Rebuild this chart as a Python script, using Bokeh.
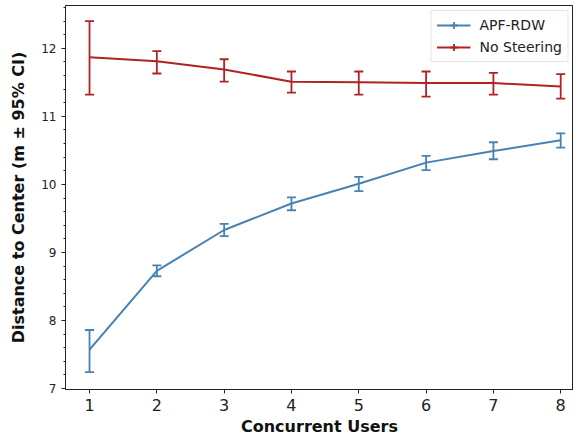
from bokeh.plotting import figure
from bokeh.models import ColumnDataSource, Whisker, TeeHead, Legend, LegendItem, FixedTicker, Range1d
from bokeh.embed import file_html
from bokeh.resources import INLINE

users = [1, 2, 3, 4, 5, 6, 7, 8]
apf_mean = [7.57, 8.73, 9.33, 9.72, 10.01, 10.32, 10.49, 10.65]
apf_lower = [7.24, 8.65, 9.24, 9.62, 9.90, 10.21, 10.37, 10.54]
apf_upper = [7.86, 8.81, 9.42, 9.81, 10.11, 10.42, 10.62, 10.75]
nos_mean = [11.87, 11.81, 11.69, 11.51, 11.50, 11.49, 11.49, 11.44]
nos_lower = [11.32, 11.63, 11.51, 11.35, 11.32, 11.29, 11.32, 11.26]
nos_upper = [12.40, 11.96, 11.84, 11.66, 11.66, 11.66, 11.64, 11.62]

BLUE = "#4682B4"
RED = "#B22222"
FONT = "DejaVu Sans"

p = figure(width=573, height=439, output_backend="svg", toolbar_location=None,
           x_range=Range1d(0.643, 8.19), y_range=Range1d(6.985, 12.63),
           min_border_left=65, min_border_right=0, min_border_top=5, min_border_bottom=50)

p.xgrid.visible = False
p.ygrid.visible = False
p.outline_line_color = "#222222"
p.outline_line_width = 1

series = [
    ("APF-RDW", apf_mean, apf_lower, apf_upper, BLUE),
    ("No Steering", nos_mean, nos_lower, nos_upper, RED),
]
items = []
for name, m, lo, hi, col in series:
    src = ColumnDataSource(dict(x=users, y=m, lo=lo, hi=hi))
    ln = p.line("x", "y", source=src, line_color=col, line_width=2)
    w = Whisker(base="x", lower="lo", upper="hi", source=src, line_color=col, line_width=1.8,
                lower_head=TeeHead(size=9, line_color=col, line_width=1.8),
                upper_head=TeeHead(size=9, line_color=col, line_width=1.8))
    p.add_layout(w)
    mk = p.scatter(x=[float("nan")], y=[float("nan")], marker="cross", size=15,
                   line_color=col, line_width=1.8)
    items.append(LegendItem(label=name, renderers=[ln, mk]))

legend = Legend(items=items, location="top_right")
legend.label_text_font = FONT
legend.label_text_font_size = "14px"
legend.label_text_color = "#222222"
legend.glyph_width = 34
legend.glyph_height = 18
legend.spacing = 4
legend.padding = 5
legend.margin = 5
legend.label_standoff = 9
legend.border_line_color = "#cccccc"
legend.border_line_width = 1
legend.background_fill_alpha = 0.9
p.add_layout(legend)

p.xaxis.ticker = FixedTicker(ticks=users)
p.yaxis.ticker = FixedTicker(ticks=[7, 8, 9, 10, 11, 12],
                             minor_ticks=[round(7 + 0.2 * i, 1) for i in range(29)])

for ax in (p.xaxis[0], p.yaxis[0]):
    ax.axis_line_color = "#222222"
    ax.major_tick_line_color = "#222222"
    ax.minor_tick_line_color = "#222222"
    ax.major_tick_out = 4
    ax.major_tick_in = 0
    ax.minor_tick_out = 2
    ax.minor_tick_in = 0
    ax.major_label_text_font = FONT
    ax.major_label_text_color = "#222222"
    ax.axis_label_text_font = FONT
    ax.axis_label_text_font_style = "bold"
    ax.axis_label_text_color = "#111111"

p.xaxis.minor_tick_line_color = None
p.xaxis.major_label_text_font_size = "16px"
p.yaxis.major_label_text_font_size = "12px"
p.xaxis.axis_label = "Concurrent Users"
p.yaxis.axis_label = "Distance to Center (m \u00b1 95% CI)"
p.xaxis.axis_label_text_font_size = "16px"
p.yaxis.axis_label_text_font_size = "16px"
p.xaxis.axis_label_standoff = 3
p.yaxis.axis_label_standoff = 10
p.xaxis.major_label_standoff = 5
p.yaxis.major_label_standoff = 5

open("out.html", "w").write(file_html(p, INLINE))
